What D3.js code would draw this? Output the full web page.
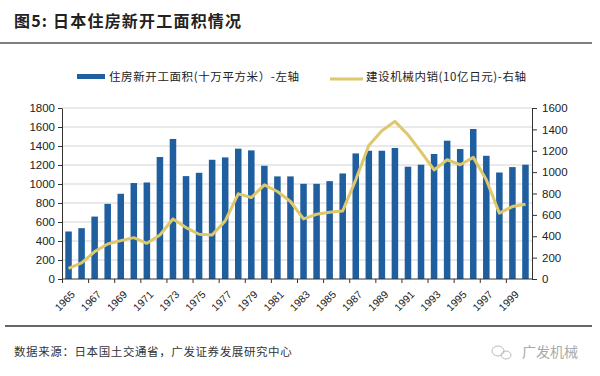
<!DOCTYPE html>
<html>
<head>
<meta charset="utf-8">
<script src="https://cdn.jsdelivr.net/npm/d3@7"></script>
<style>
  body { margin: 0; background: #fff; }
  svg { font-family: "Liberation Sans", Arial, sans-serif; }
  .cjk { font-family: "Noto Sans CJK SC", sans-serif; }
</style>
</head>
<body>
<div id="chart"></div>
<script>
// data
var years = d3.range(1965, 2001).map(String);
var starts = [500, 535, 657, 791, 897, 1010, 1016, 1284, 1474, 1083, 1118, 1255,
              1280, 1372, 1354, 1192, 1080, 1080, 1002, 1002, 1030, 1111, 1322, 1350,
              1350, 1379, 1182, 1203, 1316, 1456, 1368, 1579, 1297, 1121, 1178, 1203];
var machinery = [100, 150, 256, 328, 359, 387, 334, 412, 562, 481, 419, 412,
                 544, 797, 762, 881, 819, 725, 562, 606, 625, 637, 928, 1250,
                 1387, 1475, 1350, 1190, 1020, 1116, 1069, 1138, 928, 616, 678, 700];
var leftTicks = d3.range(0, 1801, 200);
var rightTicks = d3.range(0, 1601, 200);
var yearLabels = years.filter((d, i) => i % 2 === 0);

var W = 600, H = 376;
var margin = {top: 108, right: 68, bottom: 97, left: 62},
    width = W - margin.left - margin.right,
    height = H - margin.top - margin.bottom;

var svg = d3.select("#chart")
  .append("svg")
  .attr("width", W)
  .attr("height", H);

// title + rules
svg.append("text")
  .attr("class", "cjk")
  .attr("x", 14).attr("y", 27)
  .attr("font-size", 16).attr("font-weight", "bold")
  .attr("letter-spacing", 1.2)
  .attr("fill", "#222")
  .text("图5:  日本住房新开工面积情况");

svg.append("line")
  .attr("x1", 0).attr("x2", 592).attr("y1", 43).attr("y2", 43)
  .attr("stroke", "#555").attr("stroke-width", 1.5);

svg.append("line")
  .attr("x1", 5).attr("x2", 592).attr("y1", 326).attr("y2", 326)
  .attr("stroke", "#666").attr("stroke-width", 2);

svg.append("text")
  .attr("class", "cjk")
  .attr("x", 14).attr("y", 356)
  .attr("font-size", 11.5).attr("letter-spacing", 0.6).attr("fill", "#333")
  .text("数据来源：日本国土交通省，广发证券发展研究中心");

// watermark
var wm = svg.append("g").attr("fill", "none").attr("stroke", "#bbb").attr("stroke-width", 1);
wm.append("ellipse").attr("cx", 498).attr("cy", 351).attr("rx", 6).attr("ry", 5);
wm.append("ellipse").attr("cx", 506).attr("cy", 355).attr("rx", 5).attr("ry", 4);
svg.append("text")
  .attr("class", "cjk")
  .attr("x", 522).attr("y", 357)
  .attr("font-size", 14).attr("fill", "#aaa")
  .text("广发机械");

// legend
svg.append("rect")
  .attr("x", 77).attr("y", 74).attr("width", 28).attr("height", 5)
  .attr("fill", "#1f5fa0");
svg.append("text")
  .attr("class", "cjk")
  .attr("x", 109).attr("y", 81)
  .attr("font-size", 11.5).attr("letter-spacing", 0.6).attr("fill", "#222")
  .text("住房新开工面积(十万平方米）-左轴");
svg.append("line")
  .attr("x1", 330).attr("x2", 363).attr("y1", 79).attr("y2", 79)
  .attr("stroke", "#dfc76b").attr("stroke-width", 3);
svg.append("text")
  .attr("class", "cjk")
  .attr("x", 366).attr("y", 81)
  .attr("font-size", 11.5).attr("letter-spacing", 0.6).attr("fill", "#222")
  .text("建设机械内销(10亿日元)-右轴");

var g = svg.append("g")
  .attr("transform", "translate(" + margin.left + "," + margin.top + ")");

// scales
var x = d3.scaleBand()
  .domain(years)
  .range([0, width])
  .paddingInner(0.5)
  .paddingOuter(0.25);

var yL = d3.scaleLinear().domain([0, 1800]).range([height, 0]);
var yR = d3.scaleLinear().domain([0, 1600]).range([height, 0]);

// gridlines
g.append("g")
  .selectAll("line")
  .data(leftTicks.slice(1))
  .enter().append("line")
  .attr("x1", 0).attr("x2", width)
  .attr("y1", d => yL(d)).attr("y2", d => yL(d))
  .attr("stroke", "#d4d4d4");

// bars
g.append("g")
  .selectAll("rect")
  .data(starts)
  .enter().append("rect")
  .attr("x", (d, i) => x(years[i]))
  .attr("y", d => yL(d))
  .attr("width", x.bandwidth())
  .attr("height", d => height - yL(d))
  .attr("fill", "#1f5fa0");

// line
var line = d3.line()
  .x((d, i) => x(years[i]) + x.bandwidth() / 2)
  .y(d => yR(d));

g.append("path")
  .datum(machinery)
  .attr("d", line)
  .attr("fill", "none")
  .attr("stroke", "#dfc76b")
  .attr("stroke-width", 3)
  .attr("stroke-linejoin", "round");

// axes
var axL = g.append("g")
  .call(d3.axisLeft(yL).tickValues(leftTicks).tickFormat(d3.format("d")).tickSize(4).tickSizeOuter(0));
var axR = g.append("g")
  .attr("transform", "translate(" + width + ",0)")
  .call(d3.axisRight(yR).tickValues(rightTicks).tickFormat(d3.format("d")).tickSize(5).tickSizeOuter(0));

// x axis: ticks at band edges every two years
var step = x.step();
var edge = d => x(d) - x.paddingOuter() * step + 0.5;
var xAxis = g.append("g").attr("transform", "translate(0," + height + ")");
xAxis.append("line")
  .attr("x1", 0).attr("x2", width)
  .attr("stroke", "#333");
xAxis.selectAll("line.tk")
  .data(yearLabels)
  .enter().append("line")
  .attr("class", "tk")
  .attr("x1", edge).attr("x2", edge)
  .attr("y1", 0).attr("y2", 4)
  .attr("stroke", "#333");
xAxis.selectAll("text")
  .data(yearLabels)
  .enter().append("text")
  .attr("transform", d => "translate(" + (edge(d) + 8) + ",11) rotate(-45)")
  .attr("text-anchor", "end")
  .attr("dy", "0.7em")
  .attr("font-size", 10.5)
  .attr("fill", "#222")
  .text(d => d);

[axL, axR].forEach(a => {
  a.select(".domain").attr("stroke", "#333");
  a.selectAll(".tick line").attr("stroke", "#333");
  a.selectAll(".tick text").attr("font-size", 11.5).attr("fill", "#222")
    .attr("font-family", "Liberation Sans, Arial, sans-serif");
});
axL.selectAll(".tick text").attr("x", -7);
axR.selectAll(".tick text").attr("x", 10);
</script>
</body>
</html>
